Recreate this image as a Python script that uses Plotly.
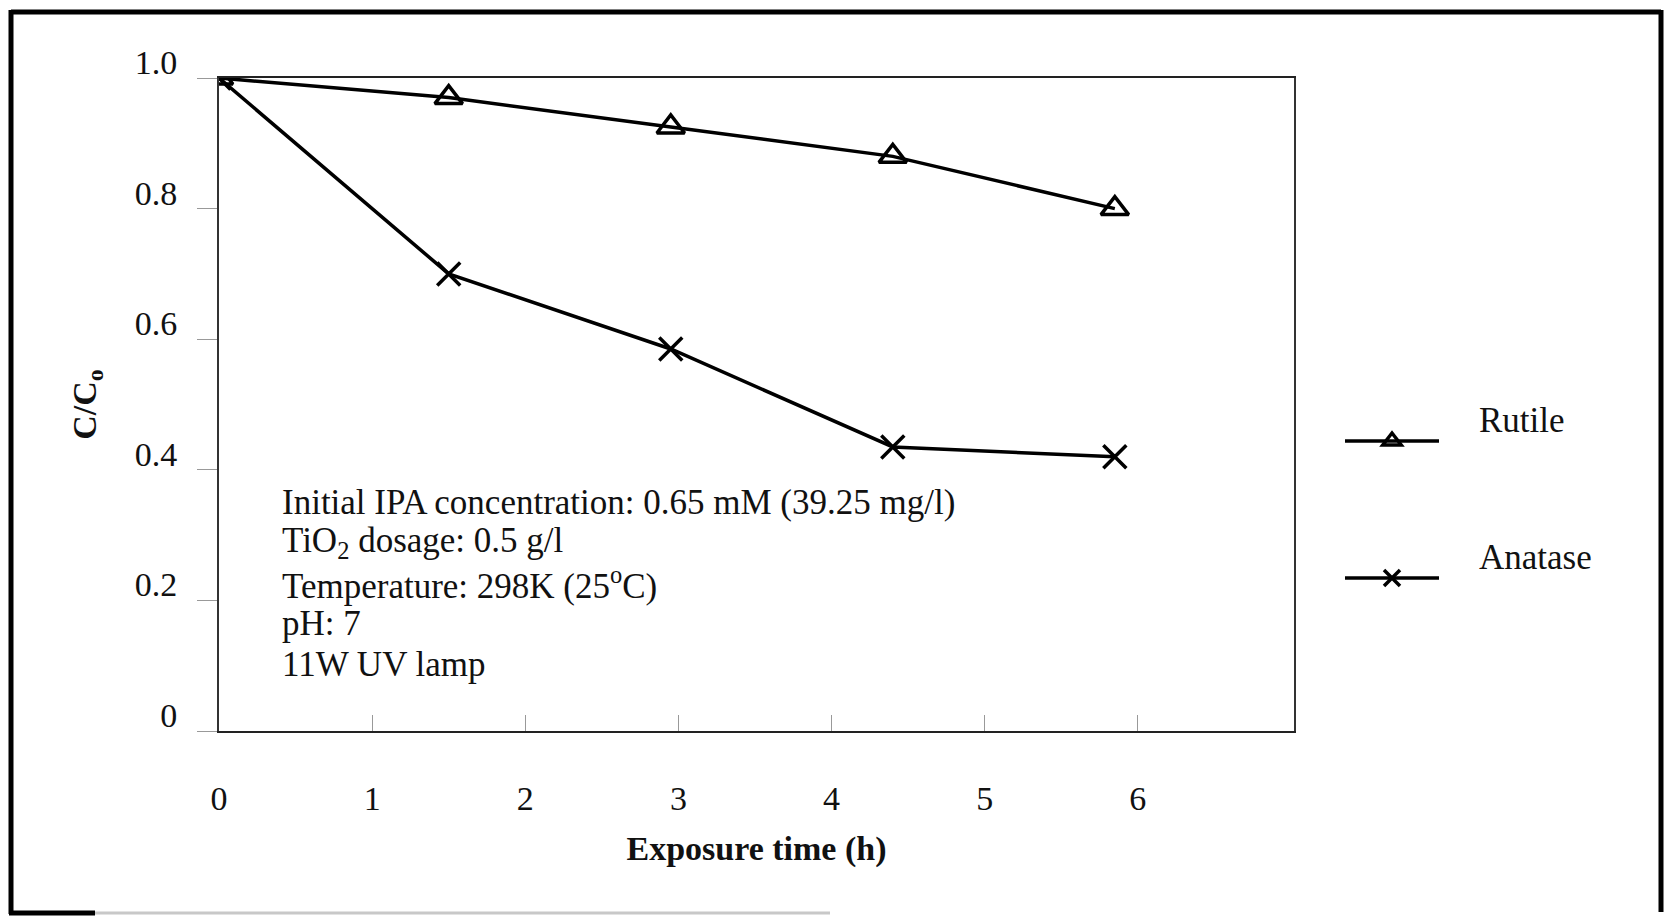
import plotly.graph_objects as go

# ---- data ----
time_h = [0, 1.5, 2.95, 4.4, 5.85]
rutile = [1.0, 0.97, 0.925, 0.88, 0.80]
anatase = [1.0, 0.70, 0.585, 0.435, 0.42]

x_tick_vals = [0, 1, 2, 3, 4, 5, 6]
y_tick_vals = [0, 0.2, 0.4, 0.6, 0.8, 1.0]
y_tick_text = ["0", "0.2", "0.4", "0.6", "0.8", "1.0"]

notes = [
    "Initial IPA concentration: 0.65 mM (39.25 mg/l)",
    "TiO<sub>2</sub> dosage: 0.5 g/l",
    "Temperature: 298K (25<sup>o</sup>C)",
    "pH: 7",
    "11W UV lamp",
]

# ---- layout geometry (pixels) ----
W, H = 1668, 916
L, R, T, B = 219, 1294, 78, 731
FONT = "Liberation Serif, Times New Roman, serif"


def px_x(p):
    return (p - L) / (R - L)


def px_y(p):
    return (B - p) / (B - T)


def frame_line(x0, y0, x1, y1, color, width):
    return dict(type="line", xref="paper", yref="paper",
                x0=px_x(x0), y0=px_y(y0), x1=px_x(x1), y1=px_y(y1),
                line=dict(color=color, width=width), layer="below")


fig = go.Figure()
fig.add_trace(go.Scatter(
    x=time_h, y=rutile, name="\u00a0\u00a0\u00a0\u00a0Rutile<br>\u00a0",
    mode="lines+markers", legendgroup="r",
    line=dict(color="black", width=3.5),
    marker=dict(symbol="triangle-up-open", size=24, color="black",
                line=dict(width=3.5, color="black")),
))
fig.add_trace(go.Scatter(
    x=time_h, y=anatase, name="\u00a0\u00a0\u00a0\u00a0Anatase<br>\u00a0",
    mode="lines+markers", legendgroup="a",
    line=dict(color="black", width=3.5),
    marker=dict(symbol="x-thin", size=23, color="black",
                line=dict(width=3.5, color="black")),
))

annotations = []
for i, t in enumerate(notes):
    annotations.append(dict(
        xref="paper", yref="paper", x=px_x(280), y=px_y(502 + 40.5 * i),
        xanchor="left", yanchor="middle", text=t, showarrow=False,
        font=dict(family=FONT, size=35, color="#111"),
    ))

shapes = [
    frame_line(11, 12, 1661, 12, "black", 5),      # top
    frame_line(11, 10, 11, 914, "black", 5),       # left
    frame_line(1661, 10, 1661, 912, "black", 5),   # right
    frame_line(9, 913, 95, 913, "black", 5),       # bottom (dark part)
    frame_line(95, 913, 830, 913, "#c8c8c8", 3),   # bottom (faded part)
]

fig.update_layout(
    width=W, height=H,
    margin=dict(l=L, r=W - R, t=T, b=H - B, pad=0),
    paper_bgcolor="white", plot_bgcolor="white",
    font=dict(family=FONT, color="#111"),
    showlegend=True,
    legend=dict(
        x=px_x(1340), y=px_y(389), xanchor="left", yanchor="top",
        itemwidth=94, tracegroupgap=43, traceorder="grouped",
        font=dict(family=FONT, size=35, color="#111"),
        bgcolor="rgba(0,0,0,0)", borderwidth=0,
    ),
    annotations=annotations,
    shapes=shapes,
)

fig.update_xaxes(
    range=[0, 7.02], tickvals=x_tick_vals, ticks="inside", ticklen=16,
    tickcolor="#999", tickwidth=1, showgrid=False, zeroline=False,
    showline=True, linecolor="#222", linewidth=2, mirror=True,
    tickfont=dict(family=FONT, size=34, color="#111"),
    ticklabelstandoff=36,
    title=dict(text="<b>Exposure time (h)</b>", standoff=20,
               font=dict(family=FONT, size=34, color="#111")),
)
fig.update_yaxes(
    range=[0, 1.0], tickvals=y_tick_vals, ticktext=y_tick_text,
    ticks="outside", ticklen=20, tickcolor="#999", tickwidth=1,
    showgrid=False, zeroline=False,
    showline=True, linecolor="#333", linewidth=2, mirror=True,
    tickfont=dict(family=FONT, size=34, color="#111"),
    ticklabelshift=-16, ticklabelstandoff=13,
    title=dict(text="<b>C/C<sub>o</sub></b>", standoff=28,
               font=dict(family=FONT, size=34, color="#111")),
)

fig.write_html("out.html", config={"displayModeBar": False},
               post_script="document.body.style.margin='0px';")
